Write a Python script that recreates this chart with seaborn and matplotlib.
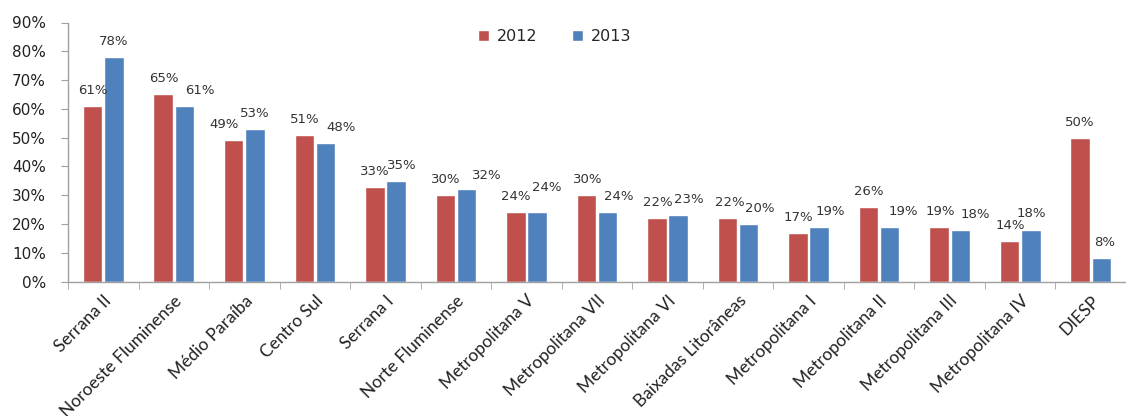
import matplotlib
matplotlib.use("Agg")
import matplotlib.pyplot as plt
import seaborn as sns
import pandas as pd
import numpy as np
from matplotlib.ticker import PercentFormatter, FixedLocator

categories = ["Serrana II", "Noroeste Fluminense", "Médio Paraíba", "Centro Sul",
              "Serrana I", "Norte Fluminense", "Metropolitana V", "Metropolitana VII",
              "Metropolitana VI", "Baixadas Litorâneas", "Metropolitana I",
              "Metropolitana II", "Metropolitana III", "Metropolitana IV", "DIESP"]
values_2012 = [61, 65, 49, 51, 33, 30, 24, 30, 22, 22, 17, 26, 19, 14, 50]
values_2013 = [78, 61, 53, 48, 35, 32, 24, 24, 23, 20, 19, 19, 18, 18, 8]
series = ["2012", "2013"]
colors = ["#C0504D", "#4F81BD"]

# label nudges (pixels) as placed in the original chart
nudge_x_2012 = [0, 1, -10, 0, 0, 0, 0, 1, 1, 2, 0, 0, 1, 1, 0]
nudge_x_2013 = [0, 15, 0, 16, 6, 20, 10, 11, 11, 11, 11, 14, 15, 1, 3]
nudge_y_2013 = [0, 0, 0, 0, 0, -2, 9, 0, 0, 0, 0, 0, 0, 1, 0]

df = pd.DataFrame({
    "category": categories * 2,
    "year": [series[0]] * len(categories) + [series[1]] * len(categories),
    "value": [v / 100 for v in values_2012 + values_2013],
})

sns.set_style("white")
fig = plt.figure(figsize=(11.26, 4.16), dpi=100)
W, H = 1126, 416
x0, x1 = 68, 1126
y0, y1 = 281.5, 22.5
ax = fig.add_axes([x0 / W, (H - y0) / H, (x1 - x0) / W, (y0 - y1) / H])

sns.barplot(data=df, x="category", y="value", hue="year", palette=colors,
            order=categories, hue_order=series, width=0.6, gap=0.08,
            saturation=1, ax=ax, errorbar=None)

ax.set_ylim(0, 0.9)
span = 71.07
ax.set_xlim(-0.5, -0.5 + (x1 - x0) / span)
ax.yaxis.set_major_locator(FixedLocator(np.arange(0, 0.91, 0.1)))
ax.yaxis.set_major_formatter(PercentFormatter(1.0, decimals=0))
ax.set_xlabel("")
ax.set_ylabel("")

for sp in ["top", "right"]:
    ax.spines[sp].set_visible(False)
for sp in ["left", "bottom"]:
    ax.spines[sp].set_color("#A0A0A0")
    ax.spines[sp].set_linewidth(1.0)

ax.tick_params(axis="y", which="major", length=5, color="#A0A0A0", direction="out",
               labelsize=11, pad=11, left=True, labelcolor="#222222")
ax.set_xticks(range(len(categories)))
ax.set_xticklabels(categories, rotation=45, ha="right", rotation_mode="anchor",
                   fontsize=12.5, family="Lato", color="#222222")
ax.tick_params(axis="x", which="major", length=0, pad=8)
ax.set_xticks(np.arange(-0.5, len(categories), 1.0), minor=True)
ax.tick_params(axis="x", which="minor", length=5, color="#A0A0A0", direction="out", bottom=True)

px = 72 / 100  # points per pixel
nudges = [(nudge_x_2012, [0] * len(categories)), (nudge_x_2013, nudge_y_2013)]
for cont, (nx, ny) in zip(ax.containers, nudges):
    for i, b in enumerate(cont):
        h = b.get_height()
        ax.annotate(f"{h * 100:.0f}%", xy=(b.get_x() + b.get_width() / 2, h),
                    xytext=(nx[i] * px, 6.5 + ny[i] * px), textcoords="offset points",
                    ha="center", va="bottom", fontsize=9.5, color="#333333")

leg = ax.legend(loc="upper center", bbox_to_anchor=(0.46, 1.03), ncol=2,
                frameon=False, fontsize=11.5, handlelength=0.65, handleheight=0.65,
                columnspacing=2.2, handletextpad=0.5)

fig.savefig("out.png", dpi=100)
